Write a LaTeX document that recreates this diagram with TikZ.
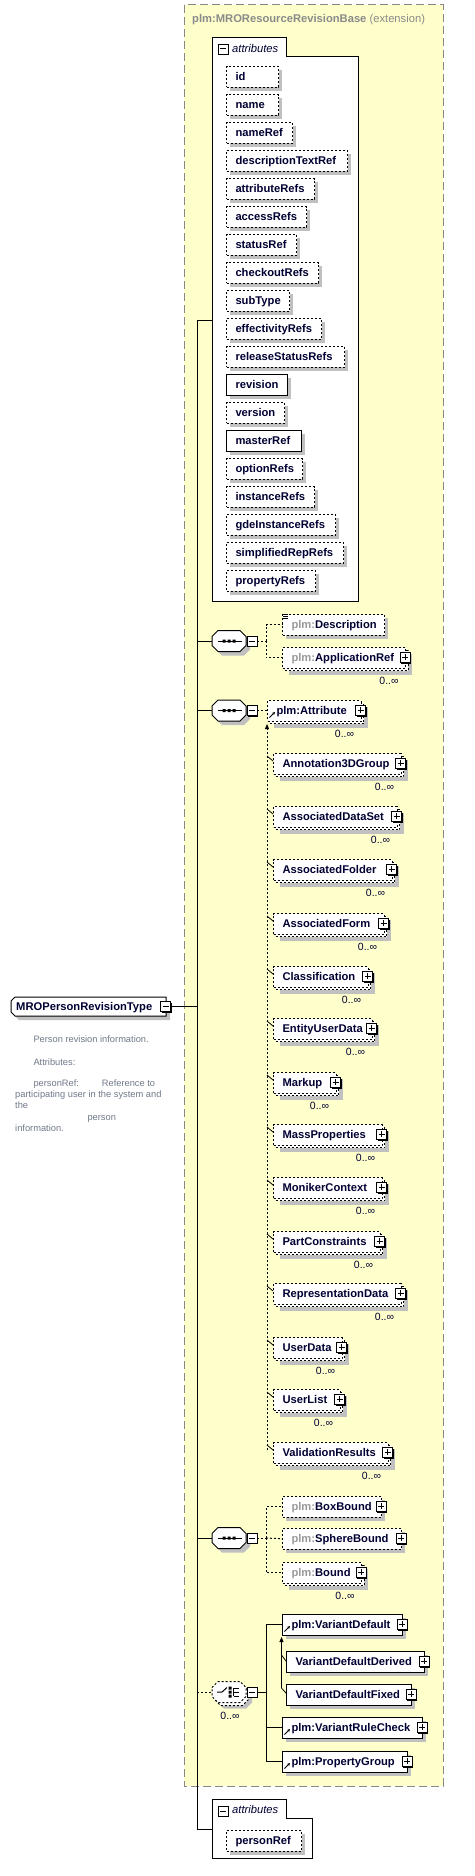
\documentclass[tikz,border=0pt]{standalone}
\usepackage{fontspec}
\setmainfont{Liberation Sans}
\usetikzlibrary{arrows.meta,shadows,calc}
\definecolor{ylw}{HTML}{FFFFCC}
\definecolor{shd}{HTML}{C0C0C0}
\definecolor{txt}{HTML}{000033}
\definecolor{pfx}{HTML}{9A9A9A}
\definecolor{ttl}{HTML}{8A8A8A}
\definecolor{dgr}{HTML}{707A8A}
\definecolor{bord}{HTML}{888888}
\newcommand\efont{\fontsize{11.2}{13}\selectfont\bfseries}
\newcommand\mfont{\fontsize{10.5}{12}\selectfont}
\newcommand\dfont{\fontsize{9.3}{11}\selectfont}
\newcommand\ifont{\fontsize{11.2}{13}\selectfont\itshape}
\newcommand\pf{\textcolor{pfx}{plm:}}
\tikzset{
  ln/.style={line width=1pt, black},
  opt/.style={dash pattern=on 2pt off 2pt},
  elbox/.style={draw=black, line width=1pt, fill=white, anchor=north west, inner xsep=9pt, inner ysep=0pt, minimum height=20.5pt, text height=9.5pt, text depth=2pt, align=left, font=\efont, text=txt},
  pmbox/.style={draw=black, fill=white, line width=0.8pt, minimum size=10pt, inner sep=0pt, drop shadow={fill=black, opacity=1, shadow xshift=1.3pt, shadow yshift=-1.3pt}},
  plusbox/.style={pmbox, path picture={\draw[line width=1pt] ([xshift=2pt]path picture bounding box.west) -- ([xshift=-2pt]path picture bounding box.east) ([yshift=-2pt]path picture bounding box.north) -- ([yshift=2pt]path picture bounding box.south);}},
  minusbox/.style={pmbox, path picture={\draw[line width=1pt] ([xshift=2pt]path picture bounding box.west) -- ([xshift=-2pt]path picture bounding box.east);}},
  mult/.style={font=\mfont, text=txt, inner sep=0pt},
  dtxt/.style={font=\dfont, text=dgr, inner sep=0pt, anchor=base west},
  tip/.style={-{Triangle[length=5pt,width=4pt]}},
}
% single element: name, left, top, right, style, text
\newcommand\xel[6]{%
  \pgfmathsetmacro\xtw{#4-#2-18}%
  \fill[shd] ({#2+4},{#3+4}) rectangle ({#4+4},{#3+24.5});%
  \node[elbox,#5,text width=\xtw pt] (#1) at (#2,#3) {\mbox{#6}};%
}
\newcommand\xplus[3]{\node[plusbox] (#1p) at (#2,{#3+10.25}) {};}
% multi element
\newcommand\xmul[6]{%
  \pgfmathsetmacro\xtw{#4-#2-18}%
  \fill[shd] ({#2+7},{#3+7}) rectangle ({#4+7},{#3+27.5});%
  \draw[ln,opt,fill=white] ({#2+3},{#3+3}) rectangle ({#4+3},{#3+23.5});%
  \node[elbox,#5,text width=\xtw pt] (#1) at (#2,#3) {\mbox{#6}};%
  \node[plusbox] (#1p) at (#4,{#3+10.25}) {};%
  \node[mult] (#1c) at ({#4-16},{#3+34}) {0..∞};%
}
\newcommand\linkicon[2]{\draw[line width=1pt,-{Stealth[length=3pt,width=3pt]}] ({#1+2.5},{#2+17.5}) -- ({#1+8},{#2+12});}
\newcommand\octpath{(-17,-4.5) -- (-11,-10.5) -- (11,-10.5) -- (17,-4.5) -- (17,4.5) -- (11,10.5) -- (-11,10.5) -- (-17,4.5) -- cycle}
\newcommand\seqc[3]{%
  \begin{scope}[shift={(#2,#3)}]
    \fill[shd,shift={(4,4)}] \octpath;
    \draw[ln,fill=white] \octpath;
    \draw[ln] (-11,0) -- (13,0);
    \fill (-6.5,-1.5) rectangle (-3.5,1.5) (-1.5,-1.5) rectangle (1.5,1.5) (3.5,-1.5) rectangle (6.5,1.5);
  \end{scope}
  \node[inner sep=0pt, minimum width=34pt, minimum height=21pt] (#1) at (#2,#3) {};
  \node[minusbox] (#1m) at ({#2+23},#3) {};
}
\begin{document}
\begin{tikzpicture}[x=1pt,y=-1pt]
\useasboundingbox (0,0) rectangle (474,1876);
\fill[white] (0,0) rectangle (474,1876);
% extension area
\draw[bord, line width=1pt, fill=ylw, dash pattern=on 8pt off 4pt] (184,5) rectangle (443,1786);
\node[anchor=base west, inner sep=0pt, font=\fontsize{11.2}{13}\selectfont, text=ttl] (title) at (192,23) {\textbf{plm:MROResourceRevisionBase} (extension)};

% type node
\fill[shd,shift={(4,4)}] (15,997) -- (166,997) -- (166,1016) -- (15,1016) -- (11,1012) -- (11,1001) -- cycle;
\draw[ln,fill=white] (15,997) -- (166,997) -- (166,1016) -- (15,1016) -- (11,1012) -- (11,1001) -- cycle;
\node[anchor=base west, inner sep=0pt, font=\efont, text=txt] (type) at (16,1010.5) {MROPersonRevisionType};
\node[minusbox] (typem) at (165.5,1006.5) {};

% description text
\node[dtxt] (d1) at (33.3,1042.5) {Person revision information.};
\node[dtxt] (d2) at (33.3,1065) {Attributes:};
\node[dtxt] (d3) at (33.3,1086.5) {personRef:};
\node[dtxt] (d4) at (101.7,1086.5) {Reference to};
\node[dtxt] (d5) at (15,1097.5) {participating user in the system and};
\node[dtxt] (d6) at (15,1108.5) {the};
\node[dtxt] (d7) at (87.3,1120) {person};
\node[dtxt] (d8) at (15,1131) {information.};

% spine coordinates
\coordinate (spTop) at (197,320);
\coordinate (spT) at (197,1006.5);
\coordinate (sp1) at (197,641);
\coordinate (sp2) at (197,710.5);
\coordinate (sp3) at (197,1538);
\coordinate (sp4) at (197,1692);
\coordinate (spBot) at (197,1829);
\coordinate (attrA) at (212,320);
\coordinate (attrB) at (212,1829);

% attributes box (top)
\draw[ln,fill=white] (212,38) -- (286,38) -- (286,57) -- (358,57) -- (358,601) -- (212,601) -- cycle;
\node[minusbox] (atm1) at (223,49) {};
\node[anchor=base west, inner sep=0pt, font=\ifont, text=txt] (att1) at (232,52.5) {attributes};
\xel{a0}{226}{66}{278}{opt}{id}
\xel{a1}{226}{94}{278}{opt}{name}
\xel{a2}{226}{122}{292}{opt}{nameRef}
\xel{a3}{226}{150}{347}{opt}{descriptionTextRef}
\xel{a4}{226}{178}{314}{opt}{attributeRefs}
\xel{a5}{226}{206}{306}{opt}{accessRefs}
\xel{a6}{226}{234}{296}{opt}{statusRef}
\xel{a7}{226}{262}{318}{opt}{checkoutRefs}
\xel{a8}{226}{290}{289}{opt}{subType}
\xel{a9}{226}{318}{321}{opt}{effectivityRefs}
\xel{a10}{226}{346}{344}{opt}{releaseStatusRefs}
\xel{a11}{226}{374}{287}{}{revision}
\xel{a12}{226}{402}{284}{opt}{version}
\xel{a13}{226}{430}{301}{}{masterRef}
\xel{a14}{226}{458}{302}{opt}{optionRefs}
\xel{a15}{226}{486}{314}{opt}{instanceRefs}
\xel{a16}{226}{514}{335}{opt}{gdeInstanceRefs}
\xel{a17}{226}{542}{343}{opt}{simplifiedRepRefs}
\xel{a18}{226}{570}{315}{opt}{propertyRefs}

% sequence 1
\seqc{s1}{229}{641}
\coordinate (j1) at (266,641);
\xel{desc}{282}{614}{384}{opt}{\pf Description}
\draw[line width=0.7pt] (283,614.5) -- (288,614.5) (283,616.3) -- (288,616.3) (283,618.1) -- (288,618.1);
\xmul{appref}{282}{647}{405}{opt}{\pf ApplicationRef}
\draw[ln,opt] (s1m.east) -- (j1);
\draw[ln,opt] (j1) |- (desc.west);
\draw[ln,opt] (j1) |- (appref.west);

% sequence 2
\seqc{s2}{229}{710.5}
\xmul{attr}{267}{700}{360.5}{opt}{plm:Attribute}
\linkicon{267}{700}
\draw[ln,opt] (s2m.east) -- (s2m.east -| attr.west);
\coordinate (subTop) at (267,724);
\coordinate (subBot) at (267,1450);
\xmul{m1}{273}{753}{400.5}{opt}{Annotation3DGroup}
\xmul{m2}{273}{806}{396.5}{opt}{AssociatedDataSet}
\xmul{m3}{273}{859}{391.5}{opt}{AssociatedFolder}
\xmul{m4}{273}{913}{383.5}{opt}{AssociatedForm}
\xmul{m5}{273}{966}{367.5}{opt}{Classification}
\xmul{m6}{273}{1018}{371.5}{opt}{EntityUserData}
\xmul{m7}{273}{1072}{335.5}{opt}{Markup}
\xmul{m8}{273}{1124}{381.5}{opt}{MassProperties}
\xmul{m9}{273}{1177}{381.5}{opt}{MonikerContext}
\xmul{m10}{273}{1231}{379.5}{opt}{PartConstraints}
\xmul{m11}{273}{1283}{400.5}{opt}{RepresentationData}
\xmul{m12}{273}{1337}{341.5}{opt}{UserData}
\xmul{m13}{273}{1389}{339.5}{opt}{UserList}
\xmul{m14}{273}{1442}{387.5}{opt}{ValidationResults}
\draw[ln,opt,tip] (subBot) -- (subTop);
\foreach \m in {m1,m2,m3,m4,m5,m6,m7,m8,m9,m10,m11,m12,m13,m14}{
  \draw[line width=0.8pt] ($(\m.north west)+(-6,3)$) -- ($(\m.north west)+(0,8)$);
}

% sequence 3
\seqc{s3}{229}{1538}
\coordinate (j3) at (266,1538);
\xel{boxb}{282}{1496}{381}{opt}{\pf BoxBound}
\xplus{boxb}{381}{1496}
\xel{sphb}{282}{1528}{401}{opt}{\pf SphereBound}
\xplus{sphb}{401}{1528}
\xmul{bnd}{282}{1562}{361}{opt}{\pf Bound}
\draw[ln,opt] (s3m.east) -- (j3);
\draw[ln,opt] (j3) |- (boxb.west);
\draw[ln,opt] (j3) |- (bnd.west);
\draw[ln,opt] (j3) -- (sphb.west);

% choice
\begin{scope}[shift={(229,1692)}]
  \fill[shd,shift={(6,6)}] \octpath;
  \draw[ln,opt,fill=white,shift={(2.5,3)}] \octpath;
  \draw[ln,opt,fill=white] \octpath;
  \draw[ln] (-12,0) -- (-7,0) -- (-2,-4.5);
  \fill (-0.5,-5.5) rectangle (2.5,-2.5) (-0.5,-1.5) rectangle (2.5,1.5) (-0.5,2.5) rectangle (2.5,5.5);
  \draw[ln] (4.5,-4) -- (4.5,4) (4.5,-4) -- (10,-4) (4.5,0) -- (10,0) (4.5,4) -- (10,4);
\end{scope}
\node[inner sep=0pt, minimum width=34pt, minimum height=21pt] (ch) at (229,1692) {};
\node[minusbox] (chm) at (252,1692) {};
\node[mult] (chc) at (230,1716) {0..∞};
\coordinate (j4) at (266,1692);
\xel{vd}{282}{1614}{402}{}{plm:VariantDefault}
\xplus{vd}{402}{1614}
\linkicon{282}{1614}
\xel{vdd}{286}{1651}{424}{}{VariantDefaultDerived}
\xplus{vdd}{424}{1651}
\xel{vdf}{286}{1684}{411}{}{VariantDefaultFixed}
\xplus{vdf}{411}{1684}
\xel{vrc}{282}{1717}{422}{}{plm:VariantRuleCheck}
\xplus{vrc}{422}{1717}
\linkicon{282}{1717}
\xel{pg}{282}{1751}{407}{}{plm:PropertyGroup}
\xplus{pg}{407}{1751}
\linkicon{282}{1751}
\draw[ln] (chm.east) -- (j4);
\draw[ln] (j4) |- (vd.west);
\draw[ln] (j4) |- (vrc.west);
\draw[ln] (j4) |- (pg.west);
\coordinate (vdTop) at (281.5,1637);
\coordinate (vdBot) at (281.5,1688);
\draw[ln,tip] (vdBot) -- (vdTop);
\draw[line width=0.8pt] ($(vdd.north west)+(-4.5,4)$) -- ($(vdd.north west)+(0,10)$);
\draw[line width=0.8pt] ($(vdf.north west)+(-4.5,4)$) -- ($(vdf.north west)+(0,9)$);

% bottom attributes box
\draw[ln,fill=white] (212,1799) -- (286,1799) -- (286,1818) -- (312,1818) -- (312,1858) -- (212,1858) -- cycle;
\node[minusbox] (atm2) at (223,1811) {};
\node[anchor=base west, inner sep=0pt, font=\ifont, text=txt] (att2) at (232,1813.5) {attributes};
\xel{pref}{226}{1830}{301}{opt}{personRef}

% spine and branches
\draw[ln] (spTop) -- (spBot);
\draw[ln] (spTop) -- (attrA);
\draw[ln] (typem.east) -- (spT);
\draw[ln] (sp1) -- (s1.west);
\draw[ln] (sp2) -- (s2.west);
\draw[ln] (sp3) -- (s3.west);
\draw[ln,opt] (sp4) -- (ch.west);
\draw[ln] (spBot) -- (attrB);
\end{tikzpicture}
\end{document}
